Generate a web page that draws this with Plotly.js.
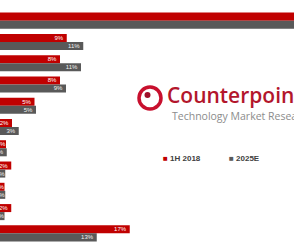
<!DOCTYPE html>
<html>
<head>
<meta charset="utf-8">
<script src="https://cdn.plot.ly/plotly-3.0.1.min.js"></script>
<style>html,body{margin:0;padding:0;background:#fff;}#chart{width:294px;height:252px;}</style>
</head>
<body>
<div id="chart"></div>
<script>
// Data (category names are cut off in the reference)
const categories = ['Category 1','Category 2','Category 3','Category 4','Category 5','Category 6','Category 7','Category 8','Category 9','Category 10','Others'];
const series1Name = '1H 2018';
const series2Name = '2025E';
const values1H2018 = [46, 8.9, 8.0, 8.0, 4.6, 1.6, 0.8, 1.5, 0.6, 1.5, 17.3];
const values2025E = [44, 11.1, 10.8, 8.8, 4.8, 2.5, 0.9, 0.7, 0.7, 0.6, 12.9];
const brandName = 'Counterpoint';
const brandTagline = 'Technology Market Research';

const W = 294, H = 252, mt = 10, mb = 8;
const py = px => (H - mb - px) / (H - mt - mb);

const common = {
  type: 'bar', orientation: 'h', y: categories,
  texttemplate: '%{x:.0f}%', textposition: 'inside', insidetextanchor: 'end',
  constraintext: 'none', textangle: 0, cliponaxis: true, hoverinfo: 'skip'
};
const traces = [
  Object.assign({}, common, {name: series1Name, x: values1H2018,
    marker: {color: '#c00000'}, textfont: {family: 'Liberation Sans, Arial', size: 6, color: '#ffffff'}}),
  Object.assign({}, common, {name: series2Name, x: values2025E,
    marker: {color: '#595959'}, textfont: {family: 'Liberation Sans, Arial', size: 6, color: '#f2f2f2'}})
];

const layout = {
  width: W, height: H,
  margin: {l: 0, r: 0, t: mt, b: mb, pad: 0},
  paper_bgcolor: '#ffffff', plot_bgcolor: '#ffffff',
  barmode: 'group', bargap: 0.245, bargroupgap: 0,
  showlegend: false,
  xaxis: {range: [0, 39.2], visible: false, fixedrange: true},
  yaxis: {type: 'category', autorange: 'reversed', visible: false, fixedrange: true},
  shapes: [
    {type: 'circle', xref: 'paper', yref: 'paper', xsizemode: 'pixel', ysizemode: 'pixel',
     xanchor: 150 / W, yanchor: py(98), x0: -11, x1: 11, y0: -11, y1: 11,
     line: {color: '#c8102e', width: 3.5}, fillcolor: 'rgba(0,0,0,0)'},
    {type: 'circle', xref: 'paper', yref: 'paper', xsizemode: 'pixel', ysizemode: 'pixel',
     xanchor: 147.5 / W, yanchor: py(95), x0: -3, x1: 3, y0: -3, y1: 3,
     line: {color: '#a0102a', width: 0}, fillcolor: '#a0102a'}
  ],
  annotations: [
    {xref: 'paper', yref: 'paper', x: 165 / W, y: py(95), xanchor: 'left', yanchor: 'middle',
     text: brandName, showarrow: false,
     font: {family: 'Open Sans, Liberation Sans, Arial', size: 21, weight: 600, color: '#b3162c'}},
    {xref: 'paper', yref: 'paper', x: 170 / W, y: py(116), xanchor: 'left', yanchor: 'middle',
     text: brandTagline, showarrow: false,
     font: {family: 'Open Sans, Liberation Sans, Arial', size: 10.5, color: '#8c8c8c'}},
    {xref: 'paper', yref: 'paper', x: 161 / W, y: py(158), xanchor: 'left', yanchor: 'middle',
     text: "<span style='color:#c00000'>■</span> " + series1Name, showarrow: false,
     font: {family: 'Liberation Sans, Arial', size: 8, weight: 'bold', color: '#404040'}},
    {xref: 'paper', yref: 'paper', x: 227 / W, y: py(158), xanchor: 'left', yanchor: 'middle',
     text: "<span style='color:#595959'>■</span> " + series2Name, showarrow: false,
     font: {family: 'Liberation Sans, Arial', size: 8, weight: 'bold', color: '#404040'}}
  ]
};

Plotly.newPlot('chart', traces, layout, {staticPlot: true, displayModeBar: false});
</script>
</body>
</html>
